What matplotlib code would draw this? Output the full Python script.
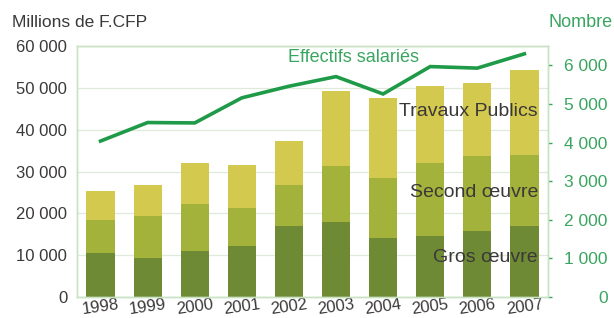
import matplotlib
matplotlib.use('Agg')
import matplotlib.pyplot as plt
import numpy as np

plt.rcParams['font.family'] = ['Liberation Sans', 'DejaVu Sans']

annees = ['1998', '1999', '2000', '2001', '2002', '2003', '2004', '2005', '2006', '2007']
gros_oeuvre = [10500, 9400, 11000, 12250, 16900, 17900, 14200, 14550, 15900, 17100]
second_oeuvre = [8000, 9950, 11150, 9100, 9800, 13350, 14200, 17500, 17750, 16950]
travaux_publics = [6800, 7550, 10000, 10150, 10500, 17950, 19100, 18350, 17550, 20350]
effectifs = [4040, 4520, 4510, 5160, 5460, 5710, 5260, 5970, 5930, 6300]

c_gros = '#6f8a34'
c_second = '#a2b23a'
c_tp = '#d3c94e'
c_ligne = '#1e9a48'
c_axe = '#c9e2c4'
c_texte = '#3b3838'
c_vert = '#3aa561'

fig = plt.figure(figsize=(6.14, 3.18), dpi=100)
ax = fig.add_axes([0.1254, 0.066, 0.767, 0.789])
ax2 = ax.twinx()

x = np.arange(len(annees))
w = 0.6
g = np.array(gros_oeuvre)
s = np.array(second_oeuvre)
t = np.array(travaux_publics)
ax.bar(x, g, w, color=c_gros, zorder=2)
ax.bar(x, s, w, bottom=g, color=c_second, zorder=2)
ax.bar(x, t, w, bottom=g + s, color=c_tp, zorder=2)

ax.set_xlim(-0.5, 9.5)
ax.set_ylim(0, 60000)
ax.set_yticks(np.arange(0, 60001, 10000))
ax.set_yticklabels([f'{v:,}'.replace(',', ' ') for v in range(0, 60001, 10000)])
ax.yaxis.grid(True, color='#dfeada', linewidth=0.9, zorder=0)
ax.set_axisbelow(True)
ax.tick_params(axis='y', length=0, pad=7, labelsize=12, labelcolor=c_texte)
ax.set_xticks(x)
ax.set_xticklabels(annees, rotation=8, fontsize=12, color=c_texte)
ax.tick_params(axis='x', length=0, pad=0)

ax2.plot(x, effectifs, color=c_ligne, linewidth=2.6, zorder=5, solid_joinstyle='miter')
ax2.set_ylim(0, 6500)
ax2.set_yticks(np.arange(0, 6001, 1000))
ax2.set_yticklabels([f'{v:,}'.replace(',', ' ') for v in range(0, 6001, 1000)])
ax2.tick_params(axis='y', length=3, width=1, color=c_vert, pad=40,
                labelsize=12.5, labelcolor=c_vert)
for lab in ax2.get_yticklabels():
    lab.set_horizontalalignment('right')

for a in (ax, ax2):
    for sp in a.spines.values():
        sp.set_color(c_axe)
        sp.set_linewidth(1.0)

fig.text(0.02, 0.93, 'Millions de F.CFP', fontsize=12.5, color=c_texte, va='center')
fig.text(0.997, 0.93, 'Nombre', fontsize=13, color=c_vert, ha='right', va='center')

ax.text(0.588, 0.956, 'Effectifs salariés', transform=ax.transAxes, fontsize=13,
        color=c_vert, ha='center', va='center', zorder=6)
ax.text(0.979, 0.741, 'Travaux Publics', transform=ax.transAxes, fontsize=14,
        color=c_texte, ha='right', va='center', zorder=6)
ax.text(0.979, 0.418, 'Second œuvre', transform=ax.transAxes, fontsize=14,
        color=c_texte, ha='right', va='center', zorder=6)
ax.text(0.979, 0.159, 'Gros œuvre', transform=ax.transAxes, fontsize=14,
        color=c_texte, ha='right', va='center', zorder=6)

fig.savefig('out.png', dpi=100)
